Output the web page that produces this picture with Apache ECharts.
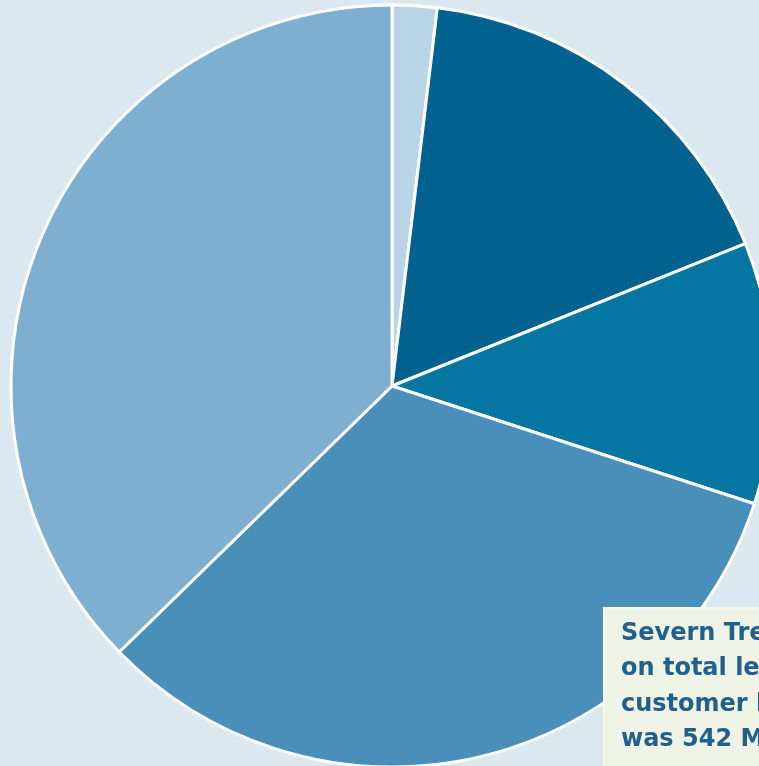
<!DOCTYPE html>
<html>
<head>
<meta charset="utf-8">
<script src="https://cdn.jsdelivr.net/npm/echarts@6/dist/echarts.min.js"></script>
<style>
html,body{margin:0;padding:0;background:#dce8f0;overflow:hidden;}
#chart{width:759px;height:766px;}
</style>
</head>
<body>
<div id="chart"></div>
<script>
// Shares (percent of the whole, clockwise from 12 o'clock)
const categories = ['A', 'B', 'C', 'D', 'E'];
const shareValues = [1.9, 17.0, 11.1, 32.7, 37.3];
const sliceColors = ['#b9d4e7', '#02628f', '#0576a2', '#4a8fba', '#7eaed0'];
const noteLines = ['Severn Trent’s', 'on total leakage', 'customer losses', 'was 542 Ml/d'];

const chart = echarts.init(document.getElementById('chart'), null, {renderer: 'canvas'});
chart.setOption({
  backgroundColor: '#dce8f0',
  animation: false,
  series: [{
    type: 'pie',
    center: [392, 386],
    radius: 381,
    startAngle: 90,
    clockwise: true,
    silent: true,
    label: {show: false},
    labelLine: {show: false},
    itemStyle: {borderColor: '#ffffff', borderWidth: 3},
    data: categories.map((c, i) => ({
      name: c,
      value: shareValues[i],
      itemStyle: {color: sliceColors[i]}
    }))
  }],
  graphic: [{
    type: 'rect',
    left: 603,
    top: 607,
    shape: {width: 170, height: 170},
    style: {fill: '#eff3e5', stroke: '#f6f8f0', lineWidth: 2},
    z: 10
  }, {
    type: 'text',
    left: 621,
    top: 616,
    z: 11,
    style: {
      text: noteLines.join('\n'),
      fill: '#215f8c',
      font: 'bold 24px "DejaVu Sans", sans-serif',
      lineHeight: 35.5
    }
  }]
});
</script>
</body>
</html>
